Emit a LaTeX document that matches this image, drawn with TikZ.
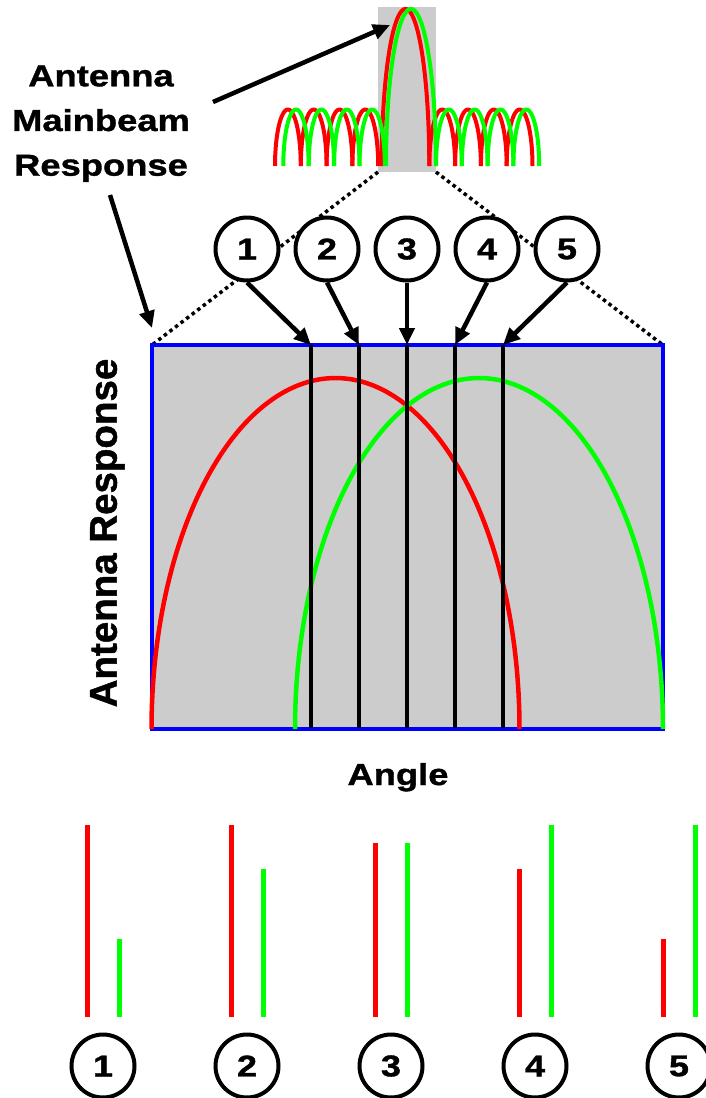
\documentclass[tikz,border=0pt]{standalone}
\usepackage{fontspec}
\setmainfont{Liberation Sans}
\newfontfamily\widesans[FakeStretch=1.2, FakeBold=1.2]{Liberation Sans}
\newfontfamily\heavysans[FakeBold=1.2]{Liberation Sans}
\usetikzlibrary{arrows.meta}
\definecolor{plotgray}{RGB}{204,204,204}
\definecolor{beamred}{RGB}{255,0,0}
\definecolor{beamgreen}{RGB}{0,255,0}
\definecolor{frameblue}{RGB}{0,0,255}

\begin{document}
\begin{tikzpicture}[x=1pt,y=-1pt,
  lobeline/.style={line width=4pt},
  curveline/.style={line width=4.5pt},
  marker/.style={draw=black, line width=4.5pt},
  pointer/.style={draw=black, line width=4.5pt, -{Triangle[length=17pt,width=15pt]}},
  numcirc/.style={circle, draw=black, line width=4pt, fill=white, minimum size=63pt,
    inner sep=0pt, font=\widesans\bfseries\fontsize{30}{30}\selectfont},
  caption/.style={font=\widesans\bfseries\fontsize{30.3}{44.7}\selectfont, inner sep=0pt},
  zoomline/.style={line width=3.5pt, dash pattern=on 3.5pt off 3.5pt},
  bar/.style={line width=5pt},
]
\useasboundingbox (0,0) rectangle (706,1098);
\clip (0,0) rectangle (706,1098);

% ---------- small beam pattern with sidelobes ----------
\fill[plotgray] (378,7) rectangle (436,172);
\coordinate (insetBL) at (378,172);
\coordinate (insetBR) at (436,172);

% red pattern: left lobes, main lobe, right lobes
\foreach \k in {0,...,3} {
  \draw[beamred, lobeline] plot[domain=180:360, samples=40]
    ({275+12.9+25.8*\k+12.9*cos(\x)}, {166+56.5*sin(\x)});
  \draw[beamred, lobeline] plot[domain=180:360, samples=40]
    ({429.3+12.9+25.8*\k+12.9*cos(\x)}, {166+56.5*sin(\x)});
}
\draw[beamred, lobeline] plot[domain=180:360, samples=80]
  ({405.5+23.8*cos(\x)}, {166+157*sin(\x)});
% green pattern, shifted to the right
\foreach \k in {0,...,3} {
  \draw[beamgreen, lobeline] plot[domain=180:360, samples=40]
    ({283.3+12.7+25.4*\k+12.7*cos(\x)}, {166+56.5*sin(\x)});
  \draw[beamgreen, lobeline] plot[domain=180:360, samples=40]
    ({436+12.9+25.8*\k+12.9*cos(\x)}, {166+56.5*sin(\x)});
}
\draw[beamgreen, lobeline] plot[domain=180:360, samples=80]
  ({411+25*cos(\x)}, {166+157*sin(\x)});

% ---------- enlarged main beam plot ----------
\coordinate (boxTL) at (152,345);
\coordinate (boxTR) at (663,345);
\coordinate (boxBR) at (663,729);
\fill[plotgray] (boxTL) rectangle (boxBR);

% zoom guide lines
\draw[zoomline] (insetBL) -- (boxTL);
\draw[zoomline] (insetBR) -- (boxTR);

\draw[frameblue, line width=4pt] (boxTL) rectangle (boxBR);

\draw[beamred, curveline] plot[domain=180:360, samples=120]
  ({335.5+184*cos(\x)}, {729+351*sin(\x)});
\draw[beamgreen, curveline] plot[domain=180:360, samples=120]
  ({479+184*cos(\x)}, {729+351*sin(\x)});

% sampling angles
\foreach \i/\xx in {1/311, 2/359, 3/407, 4/455, 5/503} {
  \coordinate (mtop\i) at (\xx,345);
  \coordinate (mbot\i) at (\xx,728);
  \draw[marker] (mtop\i) -- (mbot\i);
}

% numbered callouts above the plot
\foreach \i in {1,...,5} {
  \node[numcirc] (top\i) at ({247+80*(\i-1)},249) {\i};
  \draw[pointer] (top\i.south) -- (mtop\i);
}

% ---------- labels ----------
\node[caption, align=center] (mainlbl) at (101,123.7) {Antenna\\Mainbeam\\Response};
\coordinate (lblA) at (213,102);
\coordinate (beamtip) at (390,25);
\coordinate (lblB) at (110,195);
\coordinate (cornertip) at (152,328);
\draw[pointer] (lblA) -- (beamtip);
\draw[pointer] (lblB) -- (cornertip);

\node[font=\heavysans\bfseries\fontsize{38.5}{38.5}\selectfont, inner sep=0pt, rotate=90, anchor=base]
  (ylbl) at (116.7,533) {Antenna Response};
\node[caption, anchor=base] (xlbl) at (398,785) {Angle};

% ---------- bar pairs for each sampling angle ----------
\foreach \i/\rt/\gt in {1/825/939, 2/825/869, 3/843/843, 4/869/825, 5/939/825} {
  \draw[beamred, bar] ({87+144*(\i-1)},1017) -- ({87+144*(\i-1)},\rt);
  \draw[beamgreen, bar] ({119+144*(\i-1)},1017) -- ({119+144*(\i-1)},\gt);
  \node[numcirc] (bot\i) at ({103+144*(\i-1)},1066) {\i};
}
\end{tikzpicture}
\end{document}
